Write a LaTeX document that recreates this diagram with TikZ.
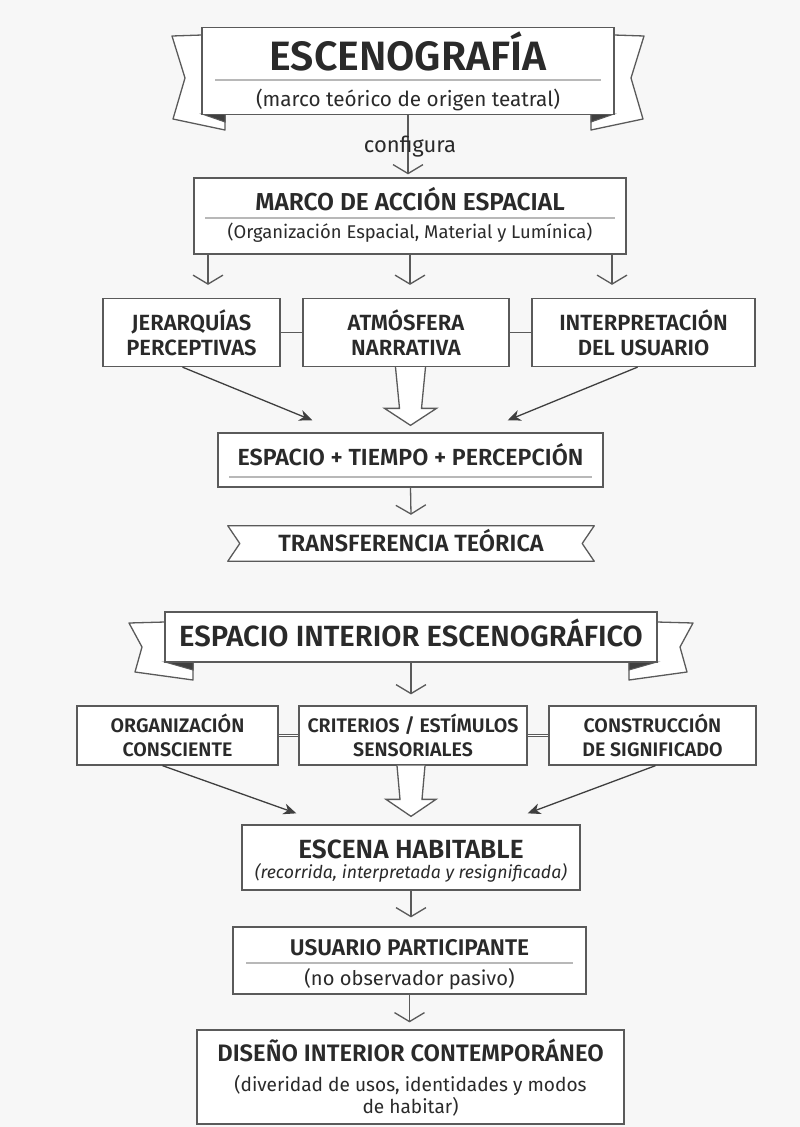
\documentclass[tikz,border=0pt]{standalone}
\usepackage{fontspec}
\setmainfont{Fira Sans}[BoldFont={Fira Sans SemiBold}]
\usetikzlibrary{arrows.meta,calc}
\definecolor{bg}{HTML}{F7F7F7}
\definecolor{ink}{HTML}{2A2A2A}
\definecolor{edge}{HTML}{5A5A5A}
\definecolor{rule}{HTML}{B8B8B8}
\tikzset{
  box/.style={draw=edge, fill=white, line width=1.3pt, inner sep=0pt},
  boxtext/.style={text=ink, align=center, inner sep=0pt},
  basetext/.style={text=ink, inner sep=0pt, anchor=base},
  ribbon/.style={draw=edge, fill=white, line width=1.3pt, line join=round},
  fold/.style={draw=edge, fill=edge!70!black, line width=1pt},
  divider/.style={draw=rule, line width=1.4pt},
  down/.style={draw=edge, line width=1.3pt, -{Straight Barb[length=9pt,width=30pt]}},
  slant/.style={draw=edge!70!black, line width=1.3pt, -{Stealth[length=13pt,width=11pt,inset=4pt]}},
  hollow/.style={draw=edge, fill=white, line width=1.3pt, line join=miter},
  link/.style={draw=edge, line width=1.5pt},
  dlink/.style={draw=edge, line width=1pt, double=white, double distance=1.6pt},
}
\newcommand{\fsz}[2]{\fontsize{#1}{#2}\selectfont}
\begin{document}
\begin{tikzpicture}[x=1pt,y=-1pt]
\fill[bg] (0,0) rectangle (800,1127);
\useasboundingbox (0,0) rectangle (800,1127);

% ESCENOGRAFIA banner
\draw[ribbon] (202,35) -- (172,36) -- (185,78) -- (173,119) -- (225,130) -- (225,114) -- (202,114) -- cycle;
\draw[ribbon] (614,35) -- (644,36) -- (631,78) -- (643,119) -- (591,130) -- (591,114) -- (614,114) -- cycle;
\filldraw[fold] (202,114) -- (225,114) -- (225,122) -- cycle;
\filldraw[fold] (614,114) -- (591,114) -- (591,122) -- cycle;
\node[box, minimum width=412pt, minimum height=87pt] (esc) at (408,71) {};
\node[basetext, font=\fsz{41}{44}\bfseries] (escT) at (408,70) {ESCENOGRAFÍA};
\draw[divider] ([xshift=14pt]esc.west |- 0,80) -- ([xshift=-14pt]esc.east |- 0,80);
\node[basetext, font=\fsz{20.7}{24}] (escS) at (408,106) {(marco teórico de origen teatral)};

% marco de accion
\node[box, minimum width=432pt, minimum height=76pt] (marco) at (410,216) {};
\node[basetext, font=\fsz{24.5}{26}\bfseries] (marcoT) at (410,210.5) {MARCO DE ACCIÓN ESPACIAL};
\draw[divider] ([xshift=12pt]marco.west |- 0,218) -- ([xshift=-12pt]marco.east |- 0,218);
\node[basetext, font=\fsz{18.4}{20}] (marcoS) at (410,238.5) {(Organización Espacial, Material y Lumínica)};

\draw[down] (esc.south) -- ([yshift=3pt]esc.south |- marco.north);
\node[basetext, font=\fsz{22}{24}] (conf) at (410,152) {configura};

% fila 1
\node[box, minimum width=177pt, minimum height=68pt] (jer) at (191.5,332.5) {};
\node[box, minimum width=206pt, minimum height=68pt] (atm) at (406,332.5) {};
\node[box, minimum width=223pt, minimum height=68pt] (int) at (643.5,332.5) {};
\node[boxtext, font=\fsz{22}{25}\bfseries] at (jer) {JERARQUÍAS\\PERCEPTIVAS};
\node[boxtext, font=\fsz{22}{25}\bfseries] at (atm) {ATMÓSFERA\\NARRATIVA};
\node[boxtext, font=\fsz{22}{25}\bfseries] at (int) {INTERPRETACIÓN\\DEL USUARIO};
\draw[link] (jer) -- (atm);
\draw[link] (atm) -- (int);
\foreach \dx in {-202,0,202}
  \draw[down] ([xshift=\dx pt]marco.south) -- ([xshift=\dx pt, yshift=13pt]marco.south |- jer.north);

% espacio + tiempo + percepcion
\node[box, minimum width=385pt, minimum height=54pt] (espacio) at (410.5,460) {};
\node[basetext, font=\fsz{23.3}{25}\bfseries] (espT) at (410.5,465) {ESPACIO + TIEMPO + PERCEPCIÓN};
\draw[divider] ([xshift=12pt]espacio.west |- 0,477) -- ([xshift=-12pt]espacio.east |- 0,477);

\draw[slant] ([xshift=-9pt]jer.south) -- ([xshift=95pt, yshift=12pt]espacio.north west);
\draw[slant] ([xshift=-6pt]int.south) -- ([xshift=-96pt, yshift=12pt]espacio.north east);
\draw[hollow] ([xshift=-15pt]espacio.north |- atm.south) -- ([xshift=-11pt, yshift=24pt]espacio.north)
  -- ([xshift=-26pt, yshift=24pt]espacio.north) -- ([yshift=7pt]espacio.north)
  -- ([xshift=26pt, yshift=24pt]espacio.north) -- ([xshift=11pt, yshift=24pt]espacio.north)
  -- ([xshift=15pt]espacio.north |- atm.south);

% transferencia teorica
\node[minimum width=366pt, minimum height=35pt, inner sep=0pt] (trans) at (411,543.5) {};
\draw[ribbon] (trans.north west) -- (trans.north east) -- ([xshift=-12pt]trans.east) -- (trans.south east)
  -- (trans.south west) -- ([xshift=12pt]trans.west) -- cycle;
\node[basetext, font=\fsz{23.5}{25}\bfseries] (transT) at (411,551) {TRANSFERENCIA TEÓRICA};
\draw[down] (espacio.south) -- ([yshift=11pt]trans.north);

% espacio interior banner
\draw[ribbon] (165,622) -- (129,623) -- (142,647) -- (135,672) -- (193,680) -- (193,662) -- (165,662) -- cycle;
\draw[ribbon] (657,622) -- (693,623) -- (680,647) -- (687,672) -- (629,680) -- (629,662) -- (657,662) -- cycle;
\filldraw[fold] (165,662) -- (193,662) -- (193,670) -- cycle;
\filldraw[fold] (657,662) -- (629,662) -- (629,670) -- cycle;
\node[box, minimum width=492pt, minimum height=50pt] (interior) at (411,637) {};
\node[basetext, font=\fsz{29.2}{32}\bfseries] (intT) at (411,646) {ESPACIO INTERIOR ESCENOGRÁFICO};

% fila 2
\node[box, minimum width=201pt, minimum height=59pt] (org) at (177.5,735.5) {};
\node[box, minimum width=228pt, minimum height=59pt] (crit) at (413,735.5) {};
\node[box, minimum width=207pt, minimum height=59pt] (cons) at (652.5,735.5) {};
\node[boxtext, font=\fsz{19.6}{24}\bfseries] at (org) {ORGANIZACIÓN\\CONSCIENTE};
\node[boxtext, font=\fsz{19.6}{24}\bfseries] at (crit) {CRITERIOS / ESTÍMULOS\\SENSORIALES};
\node[boxtext, font=\fsz{19.6}{24}\bfseries] at (cons) {CONSTRUCCIÓN\\DE SIGNIFICADO};
\draw[dlink] (org) -- (crit);
\draw[dlink] (crit) -- (cons);
\draw[down] (interior.south) -- ([yshift=11pt]interior.south |- crit.north);

% escena habitable
\node[box, minimum width=338pt, minimum height=65pt] (escena) at (411,857.5) {};
\node[basetext, font=\fsz{26.3}{28}\bfseries] (escenaT) at (411,858) {ESCENA HABITABLE};
\node[basetext, font=\fsz{17.7}{20}\itshape] (escenaS) at (411,878.5) {(recorrida, interpretada y resignificada)};

\draw[slant] ([xshift=-15pt]org.south) -- ([xshift=55pt, yshift=11pt]escena.north west);
\draw[slant] ([xshift=3pt]cons.south) -- ([xshift=-53pt, yshift=11pt]escena.north east);
\draw[hollow] ([xshift=-14pt]escena.north |- crit.south) -- ([xshift=-11pt, yshift=25pt]escena.north)
  -- ([xshift=-25pt, yshift=25pt]escena.north) -- ([yshift=8pt]escena.north)
  -- ([xshift=25pt, yshift=25pt]escena.north) -- ([xshift=11pt, yshift=25pt]escena.north)
  -- ([xshift=14pt]escena.north |- crit.south);

% usuario participante
\node[box, minimum width=353pt, minimum height=67pt] (usuario) at (409.5,960.5) {};
\node[basetext, font=\fsz{22.7}{24}\bfseries] (usuT) at (409.5,955) {USUARIO PARTICIPANTE};
\draw[divider] ([xshift=14pt]usuario.west |- 0,963) -- ([xshift=-14pt]usuario.east |- 0,963);
\node[basetext, font=\fsz{20.1}{22}] (usuS) at (409.5,985) {(no observador pasivo)};
\draw[down] (escena.south) -- ([yshift=9pt]escena.south |- usuario.north);

% diseno interior
\node[box, minimum width=427pt, minimum height=94pt] (diseno) at (410.5,1077) {};
\node[basetext, font=\fsz{23.8}{26}\bfseries] (disT) at (410.5,1061) {DISEÑO INTERIOR CONTEMPORÁNEO};
\node[boxtext, font=\fsz{19.1}{22}] (disS) at (410.5,1096) {(diveridad de usos, identidades y modos\\de habitar)};
\draw[down] (usuario.south) -- ([yshift=7pt]usuario.south |- diseno.north);
\end{tikzpicture}
\end{document}
